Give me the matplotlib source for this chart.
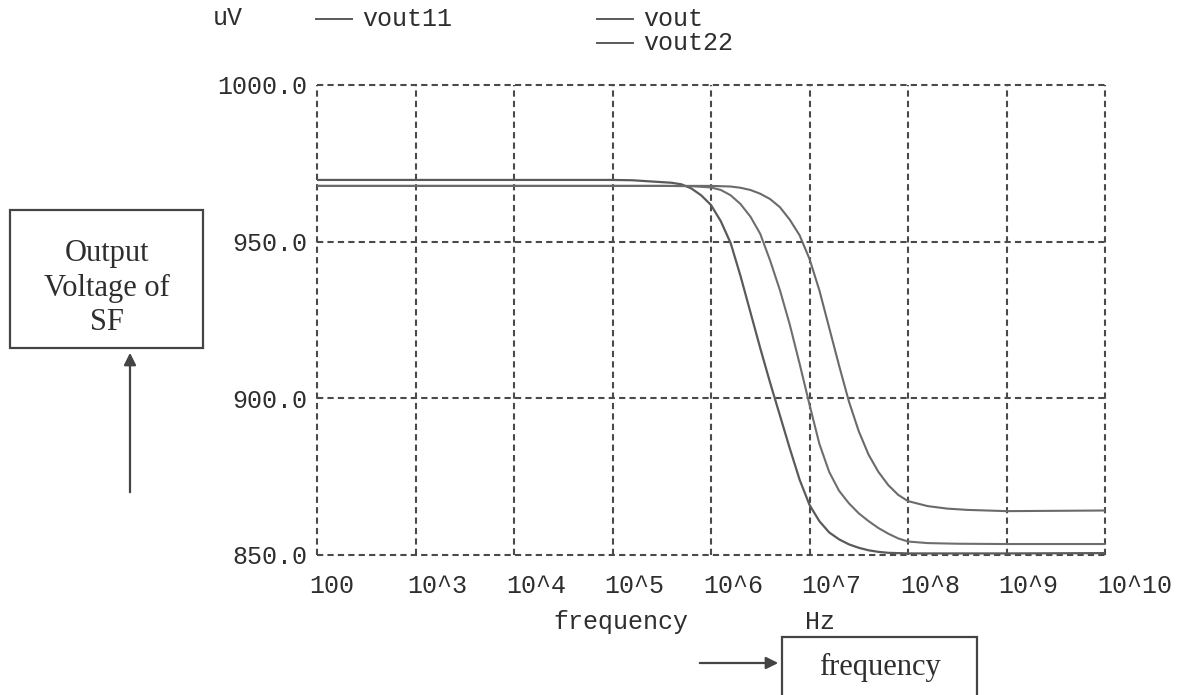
import numpy as np
import matplotlib.pyplot as plt
from matplotlib.patches import Rectangle
from matplotlib.transforms import ScaledTranslation

# log10(frequency / Hz) sample points and output voltages (uV)
logf_vout11 = [2, 3, 4, 5, 5.2, 5.5, 5.6, 5.7, 5.8, 5.9, 6.0, 6.1, 6.2, 6.3, 6.4, 6.5, 6.6,
               6.7, 6.8, 6.9, 7.0, 7.1, 7.2, 7.3, 7.4, 7.5, 7.6, 7.7, 7.8, 8.0, 9.0, 10.0]
vout11 = [969.7, 969.7, 969.7, 969.7, 969.6, 969.0, 968.8, 968.3, 967.0, 964.8, 961.7, 956.5,
          949.5, 939.0, 927.5, 916.0, 905.0, 894.5, 884.0, 874.0, 866.0, 860.8, 857.2, 855.0,
          853.4, 852.3, 851.5, 851.0, 850.7, 850.5, 850.5, 850.6]

logf_vout = [2, 3, 4, 5, 5.5, 5.8, 6.0, 6.1, 6.2, 6.3, 6.4, 6.5, 6.6, 6.7, 6.8, 6.9, 7.0,
             7.1, 7.2, 7.3, 7.4, 7.5, 7.6, 7.7, 7.8, 7.9, 8.0, 8.2, 8.5, 9.0, 10.0]
vout = [967.8, 967.8, 967.8, 967.8, 967.8, 967.7, 967.3, 966.5, 964.8, 962.0, 958.0, 952.5,
        944.0, 934.5, 923.5, 911.0, 898.0, 885.5, 876.5, 870.5, 866.5, 863.3, 860.8, 858.6,
        856.8, 855.3, 854.3, 853.8, 853.6, 853.5, 853.5]

logf_vout22 = [2, 3, 4, 5, 6.0, 6.2, 6.3, 6.4, 6.5, 6.6, 6.7, 6.8, 6.9, 7.0, 7.1, 7.2, 7.3,
               7.4, 7.5, 7.6, 7.7, 7.8, 7.9, 8.0, 8.2, 8.4, 8.6, 9.0, 10.0]
vout22 = [967.8, 967.8, 967.8, 967.8, 967.8, 967.6, 967.2, 966.5, 965.3, 963.6, 961.0, 957.0,
          952.0, 944.5, 934.5, 922.5, 910.5, 899.0, 889.5, 882.0, 876.5, 872.3, 869.2, 867.2,
          865.6, 864.8, 864.4, 864.0, 864.2]

x_ticks = [1e2, 1e3, 1e4, 1e5, 1e6, 1e7, 1e8, 1e9, 1e10]
x_ticklabels = ["100", "10^3", "10^4", "10^5", "10^6", "10^7", "10^8", "10^9", "10^10"]
y_ticks = [850, 900, 950, 1000]
y_ticklabels = ["850.0", "900.0", "950.0", "1000.0"]

W, H = 1189, 695
mono = "Liberation Mono"
serif = "Liberation Serif"
ink = "#2e2e2e"
curve_c = "#5a5a5a"


def fx(px):
    return px / W


def fy(py):
    return 1 - py / H


fig = plt.figure(figsize=(W / 100, H / 100), dpi=100)
ax = fig.add_axes([fx(317), fy(555), fx(1105) - fx(317), fy(85) - fy(555)])

ax.plot(10 ** np.array(logf_vout11), vout11, color=curve_c, lw=1.6)
ax.plot(10 ** np.array(logf_vout), vout, color="#6e6e6e", lw=1.5)
ax.plot(10 ** np.array(logf_vout22), vout22, color="#6a6a6a", lw=1.5)

ax.set_xscale("log")
ax.set_xlim(1e2, 1e10)
ax.set_ylim(850, 1000)
ax.set_xticks(x_ticks)
ax.set_xticklabels(x_ticklabels)
ax.minorticks_off()
ax.set_yticks(y_ticks)
ax.set_yticklabels(y_ticklabels)
ax.tick_params(length=0, labelsize=18, labelcolor=ink)
ax.tick_params(axis="x", pad=14)
ax.tick_params(axis="y", pad=7)
for lab in ax.get_xticklabels() + ax.get_yticklabels():
    lab.set_family(mono)
for lab in ax.get_xticklabels():
    lab.set_ha("left")
    lab.set_transform(lab.get_transform() + ScaledTranslation(-8 / 100, 0, fig.dpi_scale_trans))

# dashed grid doubles as the frame, so keep the edge lines unclipped
for s in ax.spines.values():
    s.set_visible(False)
ax.grid(True, color="#4a4a4a", lw=1.5, ls=(0, (3, 2)))
ax.set_axisbelow(True)
for gl in ax.get_xgridlines() + ax.get_ygridlines():
    gl.set_clip_on(False)

# header legend
fig.text(fx(213), fy(18), "uV", family=mono, fontsize=18, color=ink, va="center")
for x0, y0, name in [(316, 19, "vout11"), (597, 19, "vout"), (597, 43, "vout22")]:
    fig.add_artist(plt.Line2D([fx(x0), fx(x0 + 36)], [fy(y0), fy(y0)], color=curve_c, lw=1.4))
    fig.text(fx(x0 + 46), fy(y0), name, family=mono, fontsize=18, color=ink, va="center")

# axis captions
fig.text(fx(553), fy(622), "frequency", family=mono, fontsize=18, color=ink, va="center")
fig.text(fx(805), fy(622), "Hz", family=mono, fontsize=18, color=ink, va="center")

# callout boxes
fig.add_artist(Rectangle((fx(10), fy(348)), fx(203) - fx(10), fy(210) - fy(348),
                         fill=False, ec="#444444", lw=1.6))
fig.text(fx(107), fy(288), "Output\nVoltage of\nSF", family=serif, fontsize=22,
         color=ink, ha="center", va="center", linespacing=1.25)
fig.add_artist(Rectangle((fx(782), fy(705)), fx(977) - fx(782), fy(637) - fy(705),
                         fill=False, ec="#444444", lw=1.6))
fig.text(fx(880), fy(667), "frequency", family=serif, fontsize=22, color=ink,
         ha="center", va="center")

arrow = dict(arrowstyle="-|>", color="#444444", lw=1.6, mutation_scale=18)
ax.annotate("", xy=(fx(130), fy(350)), xytext=(fx(130), fy(495)),
            xycoords="figure fraction", textcoords="figure fraction", arrowprops=arrow)
ax.annotate("", xy=(fx(781), fy(663)), xytext=(fx(697), fy(663)),
            xycoords="figure fraction", textcoords="figure fraction", arrowprops=arrow)

fig.savefig("out.png", dpi=100)
